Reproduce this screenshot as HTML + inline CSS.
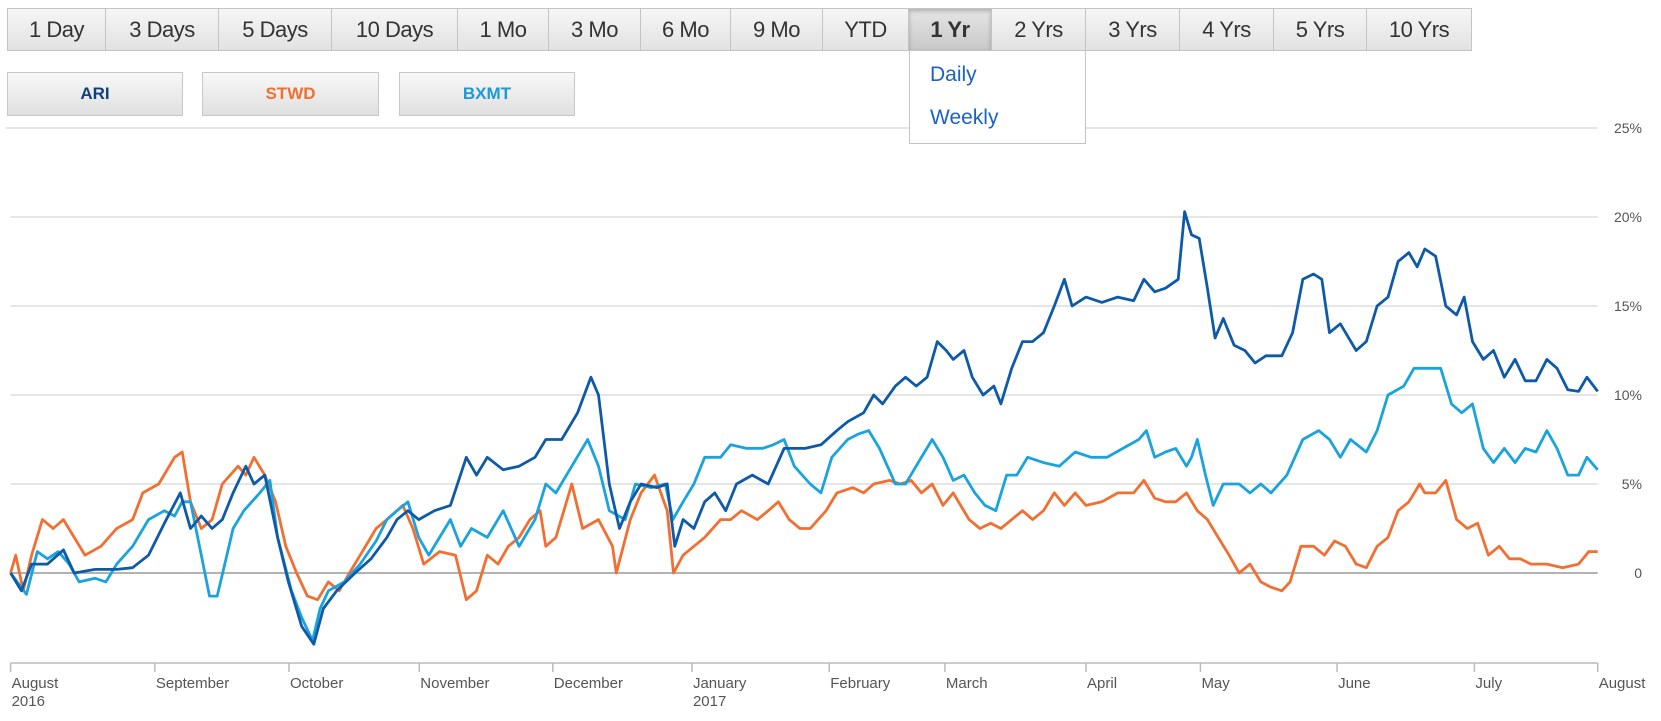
<!DOCTYPE html>
<html><head><meta charset="utf-8">
<style>
body{margin:0;width:1661px;height:721px;background:#fff;font-family:"Liberation Sans",Arial,sans-serif;position:relative;overflow:hidden}
.tab{position:absolute;top:8px;height:43px;border:1px solid #c4c4c4;border-left:none;background:linear-gradient(#f6f6f6,#e2e2e2);font-size:22px;color:#333;display:flex;align-items:center;justify-content:center;box-sizing:border-box;letter-spacing:-0.5px}
.tab.first{border-left:1px solid #c4c4c4}
.tab.sel{background:linear-gradient(#e6e6e6,#c8c8c8);font-weight:bold;box-shadow:inset 0 2px 4px rgba(0,0,0,.25)}
.btn{position:absolute;top:72px;height:44px;border:1px solid #c8c8c8;background:linear-gradient(#f8f8f8,#e0e0e0);box-sizing:border-box;font-weight:bold;font-size:17px;display:flex;align-items:center;justify-content:center}
.dd{position:absolute;left:909px;top:51px;width:177px;height:93px;border:1px solid #c4c4c4;border-top:none;background:#fff;box-sizing:border-box}
.dd div{position:absolute;left:20px;font-size:21px;color:#1a63c4}
</style></head><body>
<div id="tabs"></div>
<div class="btn" style="left:7px;width:176px;color:#123f7e">ARI</div>
<div class="btn" style="left:202px;width:177px;color:#f07030">STWD</div>
<div class="btn" style="left:399px;width:176px;color:#1a9ad6">BXMT</div>
<svg id="chart" width="1661" height="721" style="position:absolute;left:0;top:0"></svg>
<div class="dd">
<div style="top:12px">Daily</div>
<div style="top:55px">Weekly</div>
</div>
<script>
const tabLabels=["1 Day","3 Days","5 Days","10 Days","1 Mo","3 Mo","6 Mo","9 Mo","YTD","1 Yr","2 Yrs","3 Yrs","4 Yrs","5 Yrs","10 Yrs"];
const tabEdges=[7,106,219,332,458,549,641,731,823,909,992,1086,1180,1274,1367,1472];
const tabsEl=document.getElementById('tabs');
tabLabels.forEach((t,i)=>{const d=document.createElement('div');
d.className='tab'+(i==0?' first':'')+(t=="1 Yr"?' sel':'');
d.style.left=tabEdges[i]+'px';d.style.width=(tabEdges[i+1]-tabEdges[i]+(i==0?0:0))+'px';d.textContent=t;


tabsEl.appendChild(d);});

const yTicks=[0,5,10,15,20,25];
const yTickLabels=["0","5%","10%","15%","20%","25%"];
const monthDays=[0,22.7,43.8,64.3,85.3,107.2,128.8,147,169.2,187.2,208.7,230.3,249.7];
const monthLabels=["August","September","October","November","December","January","February","March","April","May","June","July","August"];
const yearLabels={0:"2016",5:"2017"};
const ariDays=[0,1.7,3.3,5.8,8.3,10,13.3,16.7,19.2,21.7,24.2,26.7,28.3,30,31.7,33.3,35,37,38.3,40,42,43.7,45.8,47.7,49.2,51.3,54.2,56.7,59.2,60.8,62.5,64.2,66.7,69.2,71.7,73.3,75,77.5,80,82.5,84.2,86.7,89.2,91.3,92.5,94.2,95.8,97.5,99.2,101.7,103.3,104.5,105.8,107.5,109.2,110.8,112.5,114.2,116.7,119.2,121.7,125,127.5,130,131.7,134.2,135.8,137.2,139.2,140.8,142.5,144.2,145.8,147.2,148.3,150,151.3,153,154.7,155.8,157.5,159.2,160.8,162.5,164.2,165.8,167,169.2,171.7,174.2,176.7,178.3,180,181.7,183.7,184.7,185.8,187,188.3,189.5,190.8,192.5,194.2,195.8,197.5,200,201.7,203.3,205,206.3,207.5,209.2,211.7,213.3,215,216.7,218.3,220,221.3,222.5,224.2,225.8,227.5,228.7,230,231.7,233.3,235,236.7,238.3,240,241.7,243.3,245,246.7,248,249.7];
const ariVals=[0,-1,0.5,0.5,1.3,0,0.2,0.2,0.3,1,2.8,4.5,2.5,3.2,2.5,3,4.5,6,5,5.5,2,-0.5,-3,-4,-2,-1,0,0.8,2,3,3.5,3,3.5,3.8,6.5,5.5,6.5,5.8,6,6.5,7.5,7.5,9,11,10,5,2.5,4,5,4.8,5,1.5,3,2.5,4,4.5,3.5,5,5.5,5,7,7,7.2,8,8.5,9,10,9.5,10.5,11,10.5,11,13,12.5,12,12.5,11,10,10.5,9.5,11.5,13,13,13.5,15,16.5,15,15.5,15.2,15.5,15.3,16.5,15.8,16,16.5,20.3,19,18.8,16,13.2,14.3,12.8,12.5,11.8,12.2,12.2,13.5,16.5,16.8,16.5,13.5,14,12.5,13,15,15.5,17.5,18,17.2,18.2,17.8,15,14.5,15.5,13,12,12.5,11,12,10.8,10.8,12,11.5,10.3,10.2,11,10.2];
const bxmtDays=[0,2.5,4.2,5.8,7.5,9.2,10.8,13.3,15,16.7,19.2,21.7,24.2,25.8,27,28.3,30,31.3,32.5,33.7,35,36.7,39.2,40.8,42,44.2,45.8,47.5,48.7,50,52.5,55,57.5,59.2,60.8,62.5,64.2,65.8,67.5,69.2,70.8,72.5,75,77.5,80,82.5,84.2,85.8,88.3,90.8,92.5,94.2,96.7,98.3,100.8,103,104.2,105.8,107.5,109.2,111.7,113.3,115.8,118.3,120,121.7,123.3,125.8,127.5,129.2,131.7,133.3,135,136.7,139.2,140.8,143.3,145,146.7,148.3,150,151.7,153.3,155,156.7,158.3,160,162.5,165,167.5,170,172.5,175,177.5,178.7,180,181.7,183.3,185,185.8,186.7,188,189.2,190.8,193.3,195,196.7,198.3,200.8,203.3,205.8,207.5,209.2,210.8,213.3,215,216.7,219.2,220.8,223.3,225,226.7,228.3,230,231.7,233.3,235,236.7,238.3,240,241.7,243.3,245,246.7,248,249.7];
const bxmtVals=[0,-1.2,1.2,0.8,1.2,0.5,-0.5,-0.3,-0.5,0.5,1.5,3,3.5,3.2,4,4,1,-1.3,-1.3,0.5,2.5,3.5,4.5,5.2,2,-1,-2.5,-3.8,-2,-1,-0.5,0.5,1.8,3,3.5,4,2,1,2,3,1.5,2.5,2,3.5,1.5,3,5,4.5,6,7.5,6,3.5,3,5,4.8,5,3,4,5,6.5,6.5,7.2,7,7,7.2,7.5,6,5,4.5,6.5,7.5,7.8,8,7,5,5,6.5,7.5,6.5,5.2,5.5,4.5,3.8,3.5,5.5,5.5,6.5,6.2,6,6.8,6.5,6.5,7,7.5,8,6.5,6.8,7,6,6.5,7.5,5.5,3.8,5,5,4.5,5,4.5,5.5,7.5,8,7.5,6.5,7.5,6.8,8,10,10.5,11.5,11.5,11.5,9.5,9,9.5,7,6.2,7,6.2,7,6.8,8,7,5.5,5.5,6.5,5.8];
const stwdDays=[0,0.8,2,3.3,5,6.7,8.3,10,11.7,14.2,16.7,19.2,20.8,23.3,25.8,27,28.3,30,31.7,33.3,35.8,37,38.3,40,41.7,43.3,45,46.7,48.3,50,51.7,53.3,55,57.5,59.2,61.7,63.3,65,67.5,70,71.7,73.3,75,76.7,78.3,80,81.7,83.3,84.2,85.8,88.3,90,92.5,94.7,95.3,97.5,99.2,101.3,103.3,104.3,105.8,107.5,109.2,111.7,113.3,115,117.5,119.2,120.8,122.5,124.2,125.8,128.3,130,132.5,134.2,135.8,138.3,140,141.7,143.3,145,146.7,148.3,150.8,152.5,154.2,155.8,157.5,159.2,160.8,162.5,164.2,165.8,167.5,169.2,171.7,174.2,176.7,178.3,180,181.7,183.3,185,186.7,188.3,190,191.7,193.3,195,196.7,198.3,200,201.3,203,205,206.7,208.3,210,211.7,213.3,215,216.7,218.3,220,221.7,222.5,224.2,225.8,227.5,229.2,230.8,232.5,234.2,235.8,237.5,239.2,241.7,244.2,246.7,248.3,249.7];
const stwdVals=[0,1,-1,1,3,2.5,3,2,1,1.5,2.5,3,4.5,5,6.5,6.8,4,2.5,3,5,6,5.5,6.5,5.5,4,1.5,0,-1.3,-1.5,-0.5,-1,0,1,2.5,3,3.8,2.5,0.5,1.2,1,-1.5,-1,1,0.5,1.5,2,3,3.5,1.5,2,5,2.5,3,1.5,0,3,4.5,5.5,3.5,0,1,1.5,2,3,3,3.5,3,3.5,4,3,2.5,2.5,3.5,4.5,4.8,4.5,5,5.2,5,5.2,4.5,5,3.8,4.5,3,2.5,2.8,2.5,3,3.5,3,3.5,4.5,3.8,4.5,3.8,4,4.5,4.5,5.2,4.2,4,4,4.5,3.5,3,2,1,0,0.5,-0.5,-0.8,-1,-0.5,1.5,1.5,1,1.8,1.5,0.5,0.3,1.5,2,3.5,4,5,4.5,4.5,5.2,3,2.5,2.8,1,1.5,0.8,0.8,0.5,0.5,0.3,0.5,1.2,1.2];

const NS="http://www.w3.org/2000/svg";
const svg=document.getElementById('chart');
const X0=10.6,X1=1597.7,DMAX=249.7,Y0=573,YPER=17.8;
const xs=d=>X0+(X1-X0)*d/DMAX;
const ys=v=>Y0-v*YPER;
function el(tag,attrs,parent){const e=document.createElementNS(NS,tag);for(const k in attrs)e.setAttribute(k,attrs[k]);(parent||svg).appendChild(e);return e;}
yTicks.forEach((t,i)=>{
 const l=el('line',{x1:t==25?6:X0,x2:X1,y1:ys(t),y2:ys(t),stroke:t==0?'#999':'#ddd','stroke-width':t==0?1.5:1.5});
 
 
 const tx=el('text',{x:1642,y:ys(t)+5,'text-anchor':'end','font-size':14,fill:'#555','font-family':'Liberation Sans, Arial, sans-serif'});
 tx.textContent=yTickLabels[i];
 
 
});
const ax=el('line',{x1:X0,x2:X1,y1:663,y2:663,stroke:'#bbb','stroke-width':1.5});


monthDays.forEach((d,i)=>{
 const x=xs(d);
 const tk=el('line',{x1:x,x2:x,y1:663,y2:672,stroke:'#bbb','stroke-width':1.5});
 
 
 const t=el('text',{x:x+1,y:688,'font-size':15,fill:'#555','font-family':'Liberation Sans, Arial, sans-serif'});
 t.textContent=monthLabels[i];
 
 
 if(yearLabels[i]){const yt=el('text',{x:x+1,y:706,'font-size':15,fill:'#555','font-family':'Liberation Sans, Arial, sans-serif'});yt.textContent=yearLabels[i];
 
 }
});
function series(days,vals,color,name){
 const p=el('polyline',{points:days.map((d,i)=>xs(d).toFixed(1)+','+ys(vals[i]).toFixed(1)).join(' '),fill:'none',stroke:color,'stroke-width':2.8,'stroke-linejoin':'round'});
 
 
}
series(stwdDays,stwdVals,'#f26f32','stwd-line');
series(bxmtDays,bxmtVals,'#1ba3dd','bxmt-line');
series(ariDays,ariVals,'#0f5aa8','ari-line');
</script>
</body></html>
